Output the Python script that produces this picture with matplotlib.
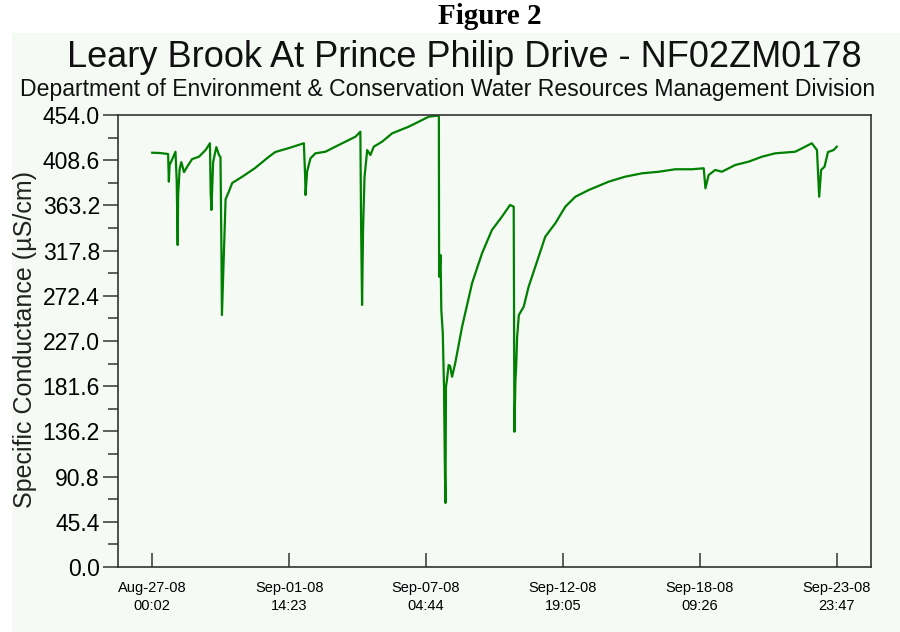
import pandas as pd
import matplotlib
matplotlib.use('Agg')
import matplotlib.pyplot as plt
from matplotlib.patches import Rectangle
from matplotlib.ticker import MultipleLocator, FormatStrFormatter

plt.rcParams['font.family'] = ['Liberation Sans', 'DejaVu Sans']

start = pd.Timestamp('2008-08-27 00:02')
end = pd.Timestamp('2008-09-23 23:47')

# days since start, specific conductance (uS/cm)
days = [0.00, 0.33, 0.65, 0.68, 0.71, 0.82, 0.95, 1.00, 1.04, 1.06,
        1.12, 1.19, 1.30, 1.43, 1.63, 1.91, 2.18, 2.36, 2.39, 2.42,
        2.49, 2.62, 2.73, 2.79, 2.83, 2.85, 2.93, 3.00, 3.13, 3.27,
        3.68, 4.21, 4.77, 5.03, 5.59, 6.20, 6.25, 6.27, 6.33, 6.47,
        6.67, 7.08, 7.49, 7.90, 8.31, 8.51, 8.54, 8.58, 8.62, 8.68,
        8.79, 8.92, 9.06, 9.40, 9.81, 10.49, 10.90, 11.31, 11.72, 11.73,
        11.79, 11.82, 11.88, 11.93, 11.97, 11.99, 12.01, 12.05, 12.12, 12.18,
        12.26, 12.39, 12.67, 13.08, 13.49, 13.89, 14.30, 14.63, 14.78, 14.81,
        14.85, 14.88, 14.92, 14.99, 15.19, 15.39, 15.80, 16.07, 16.48, 16.89,
        17.30, 17.85, 18.66, 19.33, 20.02, 20.71, 21.39, 22.07, 22.55, 22.62,
        22.75, 23.02, 23.29, 23.84, 24.38, 24.93, 25.47, 26.29, 26.70, 26.97,
        27.18, 27.27, 27.35, 27.49, 27.63, 27.86, 27.99]
cond = [416.1, 415.8, 414.8, 387.0, 403.8, 409.7, 417.1, 388.7, 323.4, 373.6,
        399.6, 406.7, 396.6, 402.1, 409.7, 412.1, 418.8, 425.6, 375.6, 358.6,
        406.7, 421.8, 413.8, 411.8, 318.4, 253.1, 315.4, 369.5, 376.8, 385.7,
        392.0, 400.8, 412.1, 416.8, 420.8, 425.6, 393.7, 373.6, 397.0, 410.5,
        415.5, 417.1, 422.2, 427.2, 432.2, 437.2, 343.5, 263.2, 338.5, 391.7,
        418.8, 413.8, 422.2, 427.2, 435.6, 442.3, 447.3, 452.3, 453.5, 291.6,
        313.4, 258.1, 235.0, 180.8, 92.4, 64.3, 180.8, 187.8, 202.9, 201.9,
        191.1, 204.9, 241.4, 285.3, 315.4, 338.5, 351.9, 363.6, 361.9, 135.9,
        187.8, 200.9, 231.0, 253.1, 261.5, 281.5, 311.7, 331.8, 345.2, 361.9,
        371.9, 378.7, 387.0, 392.0, 395.4, 397.0, 399.5, 399.5, 400.5, 380.4,
        393.7, 398.8, 397.0, 403.8, 407.1, 412.1, 415.5, 417.1, 422.2, 425.6,
        418.8, 371.9, 398.8, 402.1, 416.8, 418.8, 422.2]

ytop = 454.0
ystep = 45.4

times = start + pd.to_timedelta(days, unit='D')
span = end - start
tick_times = [start + span * k / 5 for k in range(6)]
tick_labels = [t.strftime('%b-%d-%y\n%H:%M') for t in tick_times]

bg = '#f5faf5'
edge = '#333333'

fig = plt.figure(figsize=(9, 6.32), dpi=100)
fig.patch.set_facecolor('white')
fig.patches.append(Rectangle((12 / 900, -0.01), 1, 1.01 - 33 / 632, transform=fig.transFigure,
                             facecolor=bg, edgecolor='none', zorder=-10))

ax = fig.add_axes([118 / 900, 1 - 567 / 632, 753 / 900, 452 / 632])
ax.set_facecolor(bg)
ax.plot(times, cond, color='#008000', lw=1.6)

ax.set_xlim(start - span * 0.05, end + span * 0.05)
ax.set_ylim(0, ytop)
ax.yaxis.set_major_locator(MultipleLocator(ystep))
ax.yaxis.set_minor_locator(MultipleLocator(ystep / 2))
ax.yaxis.set_major_formatter(FormatStrFormatter('%.1f'))
ax.set_xticks(tick_times)
ax.set_xticklabels(tick_labels, fontsize=10.5, linespacing=1.35)

for s in ax.spines.values():
    s.set_color(edge)
    s.set_linewidth(1.2)
ax.tick_params(axis='y', which='major', direction='out', length=11, width=1.1,
               color=edge, labelsize=16.5, pad=2)
ax.tick_params(axis='y', which='minor', direction='out', length=7, width=1.1, color=edge)
ax.tick_params(axis='x', direction='in', length=10, width=1.1, color=edge, pad=10)

fig.text(25 / 900, 1 - 339 / 632, 'Specific Conductance (µS/cm)', rotation=90,
         ha='center', va='center', fontsize=18, color='#222222')

fig.text(490 / 900, 1 - 24 / 632, 'Figure 2', ha='center', va='baseline',
         fontsize=21, fontweight='bold', family=['Liberation Serif', 'DejaVu Serif'])
fig.text(464 / 900, 1 - 67 / 632, 'Leary Brook At Prince Philip Drive - NF02ZM0178',
         ha='center', va='baseline', fontsize=26, color='#111111')
fig.text(448 / 900, 1 - 96 / 632,
         'Department of Environment & Conservation Water Resources Management Division',
         ha='center', va='baseline', fontsize=16.6, color='#111111')

fig.savefig('out.png', dpi=100, facecolor=fig.get_facecolor())
